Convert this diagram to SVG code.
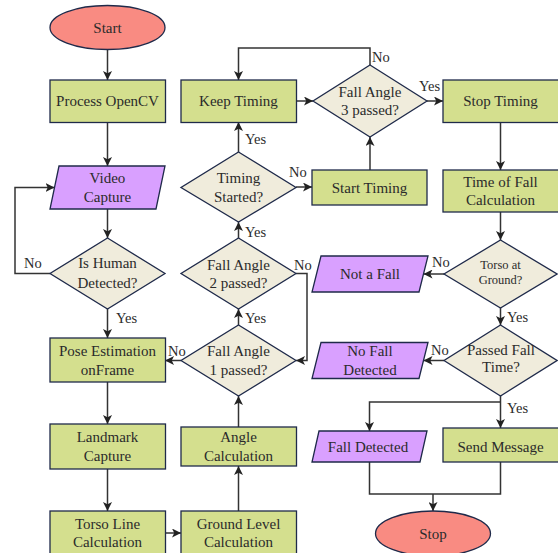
<svg xmlns="http://www.w3.org/2000/svg" width="558" height="553" viewBox="0 0 558 553" font-family="Liberation Serif, Times New Roman, DejaVu Serif, serif">
<defs>
<marker id="ah" viewBox="0 0 10 10" refX="10" refY="5" markerWidth="9" markerHeight="9" markerUnits="userSpaceOnUse" orient="auto">
<path d="M0,0 L10,5 L0,10 L2.5,5 Z" fill="#222"/>
</marker>
<style>
.n{stroke:#1f2a4a;stroke-width:1.3}
.term{fill:#f98b82}
.proc{fill:#d4df8e}
.io{fill:#d9a0ff}
.dec{fill:#f0ecdc}
text{font-family:'Liberation Serif','Times New Roman','DejaVu Serif',serif;font-size:15px;fill:#2b2b2b;text-anchor:middle;dominant-baseline:central}
.sm{font-size:12.5px}
.lb{font-size:14.5px;text-anchor:start}
.c path{fill:none;stroke:#333;stroke-width:1.5}
.c path.a{marker-end:url(#ah)}
</style>
</defs>
<rect width="558" height="553" fill="#fff"/>
<g class="c" id="connectors">
<path class="a" d="M107.5 49.5 V80"/>
<path class="a" d="M107.5 122.5 V166"/>
<path class="a" d="M107.5 209 V238"/>
<path class="a" d="M50 273.5 H15 V187.5 H54.5"/>
<path class="a" d="M107.5 309 V338"/>
<path class="a" d="M107.5 382 V424"/>
<path class="a" d="M107.5 469 V511"/>
<path class="a" d="M165 533 H181"/>
<path class="a" d="M238.5 511 V466"/>
<path class="a" d="M238.5 427 V396"/>
<path class="a" d="M238.5 325 V309"/>
<path class="a" d="M238.5 238 V222"/>
<path class="a" d="M238.5 152 V122"/>
<path class="a" d="M181 360.5 H165"/>
<path class="a" d="M296 273.5 H307 V360.5 H296"/>
<path class="a" d="M296 187 H312"/>
<path class="a" d="M370 170 V137"/>
<path class="a" d="M296 101 H313"/>
<path class="a" d="M370 65 V48 H238.5 V80"/>
<path class="a" d="M427 101 H443"/>
<path class="a" d="M500.5 122 V170"/>
<path class="a" d="M500.5 212 V240"/>
<path class="a" d="M444 274 H423.5"/>
<path class="a" d="M500.5 308 V325"/>
<path class="a" d="M444 360.5 H423.5"/>
<path class="a" d="M500.5 396 V428"/>
<path class="a" d="M500.5 402 H369.5 V431"/>
<path d="M369.5 462 V494 H500.5 V462"/>
<path class="a" d="M433 494 V511"/>
</g>
<g id="labels">
<text class="lb" x="24" y="263">No</text>
<text class="lb" x="116" y="318">Yes</text>
<text class="lb" x="245" y="139">Yes</text>
<text class="lb" x="245" y="232">Yes</text>
<text class="lb" x="245" y="318">Yes</text>
<text class="lb" x="168" y="351">No</text>
<text class="lb" x="294" y="265">No</text>
<text class="lb" x="289" y="172">No</text>
<text class="lb" x="372" y="57">No</text>
<text class="lb" x="419" y="86">Yes</text>
<text class="lb" x="432" y="262">No</text>
<text class="lb" x="507" y="317">Yes</text>
<text class="lb" x="431" y="350">No</text>
<text class="lb" x="507" y="408">Yes</text>
</g>
<g id="start"><ellipse class="n term" cx="107.5" cy="27.5" rx="57.5" ry="22"/><text x="107.5" y="28">Start</text></g>
<g id="process-opencv"><rect class="n proc" x="50" y="80" width="115.5" height="42.5"/><text x="107.5" y="101">Process OpenCV</text></g>
<g id="video-capture"><polygon class="n io" points="59,166 165,166 156,209 50,209"/><text x="107.5" y="178">Video</text><text x="107.5" y="197">Capture</text></g>
<g id="is-human"><polygon class="n dec" points="107.5,238 165,273.5 107.5,309 50,273.5"/><text x="107.5" y="263">Is Human</text><text x="107.5" y="283">Detected?</text></g>
<g id="pose-estimation"><rect class="n proc" x="50" y="338" width="115.5" height="44"/><text x="107.5" y="351">Pose Estimation</text><text x="107.5" y="370">onFrame</text></g>
<g id="landmark-capture"><rect class="n proc" x="50" y="424" width="115.5" height="45"/><text x="107.5" y="437">Landmark</text><text x="107.5" y="456">Capture</text></g>
<g id="torso-line"><rect class="n proc" x="50" y="511" width="115.5" height="46"/><text x="107.5" y="524">Torso Line</text><text x="107.5" y="542">Calculation</text></g>
<g id="ground-level"><rect class="n proc" x="181" y="511" width="115.5" height="46"/><text x="238.5" y="524">Ground Level</text><text x="238.5" y="542">Calculation</text></g>
<g id="angle-calc"><rect class="n proc" x="181" y="427" width="115.5" height="39"/><text x="238.5" y="437">Angle</text><text x="238.5" y="456">Calculation</text></g>
<g id="fall-angle-1"><polygon class="n dec" points="238.5,325 296,360.5 238.5,396 181,360.5"/><text x="238.5" y="351">Fall Angle</text><text x="238.5" y="370">1 passed?</text></g>
<g id="fall-angle-2"><polygon class="n dec" points="238.5,238 296,273.5 238.5,309 181,273.5"/><text x="238.5" y="265">Fall Angle</text><text x="238.5" y="283">2 passed?</text></g>
<g id="timing-started"><polygon class="n dec" points="238.5,152 296,187.5 238.5,222 181,187.5"/><text x="238.5" y="178">Timing</text><text x="238.5" y="197">Started?</text></g>
<g id="keep-timing"><rect class="n proc" x="181" y="80" width="115.5" height="42.5"/><text x="238.5" y="101">Keep Timing</text></g>
<g id="start-timing"><rect class="n proc" x="312" y="170" width="115" height="35"/><text x="369.5" y="187.5">Start Timing</text></g>
<g id="fall-angle-3"><polygon class="n dec" points="370,65 427,101 370,137 313,101"/><text x="370" y="92">Fall Angle</text><text x="370" y="110">3 passed?</text></g>
<g id="stop-timing"><rect class="n proc" x="443" y="80" width="116" height="42.5"/><text x="500.5" y="101">Stop Timing</text></g>
<g id="time-of-fall"><rect class="n proc" x="443" y="170" width="116" height="42"/><text x="500.5" y="182">Time of Fall</text><text x="500.5" y="200">Calculation</text></g>
<g id="torso-at-ground"><polygon class="n dec" points="500.5,240 557,274 500.5,308 444,274"/><text class="sm" x="500.5" y="265">Torso at</text><text class="sm" x="500.5" y="280">Ground?</text></g>
<g id="not-a-fall"><polygon class="n io" points="321,256 428,256 419,292 312,292"/><text x="370" y="274">Not a Fall</text></g>
<g id="passed-fall-time"><polygon class="n dec" points="500.5,325 557,360.5 500.5,396 444,360.5"/><text x="501" y="350">Passed Fall</text><text x="501" y="367">Time?</text></g>
<g id="no-fall-detected"><polygon class="n io" points="321,342.5 428,342.5 419,378.5 312,378.5"/><text x="370" y="351">No Fall</text><text x="370" y="370">Detected</text></g>
<g id="fall-detected"><polygon class="n io" points="319,431 427,431 420,462 312,462"/><text x="368" y="446.5">Fall Detected</text></g>
<g id="send-message"><rect class="n proc" x="443" y="428" width="116" height="34"/><text x="500.5" y="447">Send Message</text></g>
<g id="stop"><ellipse class="n term" cx="433" cy="533.5" rx="57.5" ry="22.5"/><text x="433" y="534">Stop</text></g>
</svg>
